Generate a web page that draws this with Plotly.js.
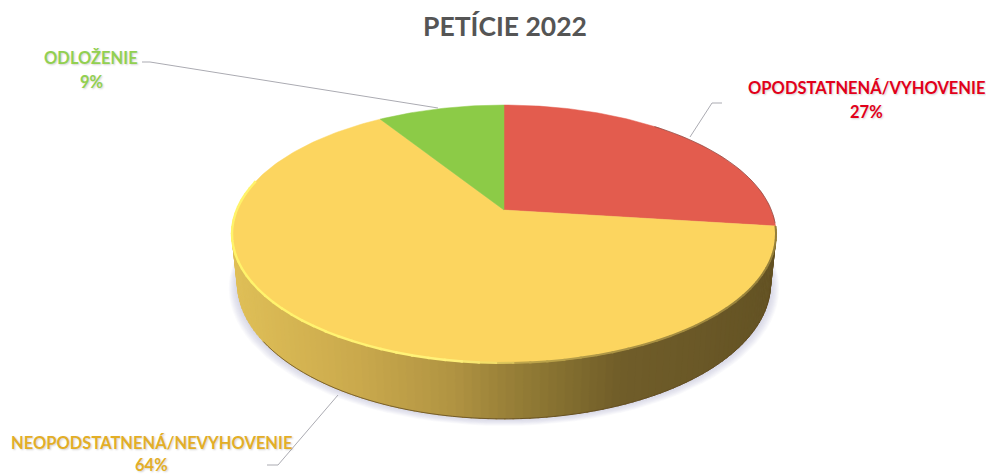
<!DOCTYPE html>
<html>
<head>
<meta charset="utf-8">
<script src="https://cdn.plot.ly/plotly-3.0.1.min.js"></script>
<style>html,body{margin:0;padding:0;background:#fff}#c{width:986px;height:474px}</style>
</head>
<body>
<div id="c"></div>
<script>
const categories = ['OPODSTATNENÁ/VYHOVENIE', 'NEOPODSTATNENÁ/NEVYHOVENIE', 'ODLOŽENIE'];
const values = [27, 64, 9];
const sliceColors = ['#E35C4E', '#FCD55F', '#8CCB47'];
const labelColors = ['#E2001A', '#E3AE27', '#92D050'];
const chartTitle = 'PETÍCIE 2022';

// Projection of the pie disc (viewport-pixel axes)
const cx = 504, cy = 210, A = 267.3, B = 124.5, k = -0.186, baseScale = 0.98, depth = 48;
function project(deg, base) {
  const t = deg * Math.PI / 180, u = Math.sin(t), v = Math.cos(t);
  const d = 1 - k * v, X = A * u / d, Y = B * v / d;
  return base ? [cx + baseScale * X, cy - baseScale * Y + depth / d] : [cx + X, cy - Y];
}
function hex(c) { return [1, 3, 5].map(i => parseInt(c.substr(i, 2), 16)); }
function ramp(stops, x) {
  for (let i = 1; i < stops.length; i++) {
    if (x <= stops[i][0]) {
      const f = Math.max(0, (x - stops[i - 1][0]) / (stops[i][0] - stops[i - 1][0]));
      const a = hex(stops[i - 1][1]), b = hex(stops[i][1]);
      return 'rgb(' + a.map((p, j) => Math.round(p + (b[j] - p) * f)).join(',') + ')';
    }
  }
  return stops[stops.length - 1][1];
}
const wallStops = [[232, '#DFBF57'], [350, '#CBAA4D'], [450, '#B19442'], [500, '#9B8239'], [560, '#857030'], [620, '#705D29'], [700, '#6A5827'], [776, '#635223']];
const rimStops = [[232, '#FFF36A'], [450, '#FFF27A'], [495, '#F0DA66'], [520, '#BFA64C'], [620, '#AC9445'], [776, '#96803A']];

const traces = [];
function poly(pts, color) {
  traces.push({
    type: 'scatter', mode: 'lines', x: pts.map(p => p[0]), y: pts.map(p => p[1]),
    fill: 'toself', fillcolor: color, line: { width: 0, color: color }, hoverinfo: 'skip', showlegend: false
  });
}
function line(pts, color, width) {
  traces.push({
    type: 'scatter', mode: 'lines', x: pts.map(p => p[0]), y: pts.map(p => p[1]),
    line: { width: width, color: color, simplify: false }, hoverinfo: 'skip', showlegend: false
  });
}

// soft shadow under the disc
for (let g = 9; g >= 1; g--) {
  const pts = [];
  for (let a = 0; a < 360; a += 3) {
    const p = project(a, true);
    pts.push([cx + (p[0] - cx) * (1 + g * 0.0036), p[1] + g * 0.55 + (p[1] - 300) * g * 0.002]);
  }
  poly(pts, 'rgba(165,175,200,0.06)');
}

// side wall strips of the slices facing the viewer
const wallFrom = 360 * values[0] / 100, wallTo = 284, step = 1.5;
for (let a = wallFrom; a < wallTo; a += step) {
  const a2 = Math.min(a + step + 0.3, wallTo);
  const p1 = project(a), p2 = project(a2), p3 = project(a2, true), p4 = project(a, true);
  const col = ramp(wallStops, (p1[0] + p2[0]) / 2);
  traces.push({
    type: 'scatter', mode: 'lines', x: [p1[0], p2[0], p3[0], p4[0], p1[0]], y: [p1[1], p2[1], p3[1], p4[1], p1[1]],
    fill: 'toself', fillcolor: col, line: { width: 0.8, color: col }, hoverinfo: 'skip', showlegend: false
  });
}
// dark bottom edge of the wall
const edge = [];
for (let a = wallFrom; a <= 236; a += 2) edge.push(project(a, true));
line(edge, 'rgba(95,72,30,0.75)', 1);

// top faces of the slices, built from the values
let start = 0;
const total = values.reduce((s, v) => s + v, 0);
values.forEach((v, i) => {
  const end = start + v / total * 360, pts = [[cx, cy]];
  for (let a = start; a < end; a += 1) pts.push(project(a));
  pts.push(project(end), [cx, cy]);
  traces.push({
    type: 'scatter', mode: 'lines', name: categories[i], x: pts.map(p => p[0]), y: pts.map(p => p[1]),
    fill: 'toself', fillcolor: sliceColors[i], line: { width: 0.5, color: sliceColors[i] }, hoverinfo: 'skip', showlegend: false
  });
  start = end;
});

// rim: light bevel on the left, shaded on the right
for (let a = wallFrom; a < wallTo; a += 3) {
  const p1 = project(a), p2 = project(Math.min(a + 3.4, wallTo));
  const mx = (p1[0] + p2[0]) / 2;
  line([p1, p2], ramp(rimStops, mx), mx < 500 ? 2.4 : 2);
}
// thin dark rim on the red slice
const redRim = [];
for (let a = 40; a <= wallFrom; a += 2) redRim.push(project(a));
line(redRim, 'rgba(120,60,55,0.6)', 1);

// leader lines
const leaderX = [[690, 712, 722], [338, 278, 267], [438, 150, 142]];
const leaderY = [[137, 103, 103], [395, 465, 465], [108, 62, 62]];
leaderX.forEach((xs, i) => {
  traces.push({
    type: 'scatter', mode: 'lines', x: xs, y: leaderY[i],
    line: { width: 1, color: '#ABABB2' }, hoverinfo: 'skip', showlegend: false
  });
});

// labels
const labelX = [866, 151, 91];
const nameY = [88, 443, 58];
const pctY = [112, 465, 82];
const annotations = [];
categories.forEach((c, i) => {
  const font = { family: 'Lato, sans-serif', size: 16.5, color: labelColors[i], shadow: '1px 1px 2px rgba(0,0,0,0.18)' };
  annotations.push({ x: labelX[i], y: nameY[i], xref: 'x', yref: 'y', text: '<b>' + c + '</b>', showarrow: false, font: font, xanchor: 'center', yanchor: 'middle' });
  annotations.push({ x: labelX[i], y: pctY[i], xref: 'x', yref: 'y', text: '<b>' + values[i] + '%</b>', showarrow: false, font: font, xanchor: 'center', yanchor: 'middle' });
});

const layout = {
  width: 986, height: 474, margin: { l: 0, r: 0, t: 0, b: 0 },
  paper_bgcolor: '#fff', plot_bgcolor: '#fff', showlegend: false, hovermode: false,
  title: { text: '<b>' + chartTitle + '</b>', x: 505 / 986, xanchor: 'center', y: 1 - 27 / 474, yanchor: 'middle', font: { family: 'Lato, sans-serif', size: 26.5, color: '#555555' } },
  xaxis: { range: [0, 986], visible: false, fixedrange: true },
  yaxis: { range: [474, 0], visible: false, fixedrange: true },
  annotations: annotations
};
Plotly.newPlot('c', traces, layout, { displayModeBar: false, staticPlot: true });
</script>
</body>
</html>
